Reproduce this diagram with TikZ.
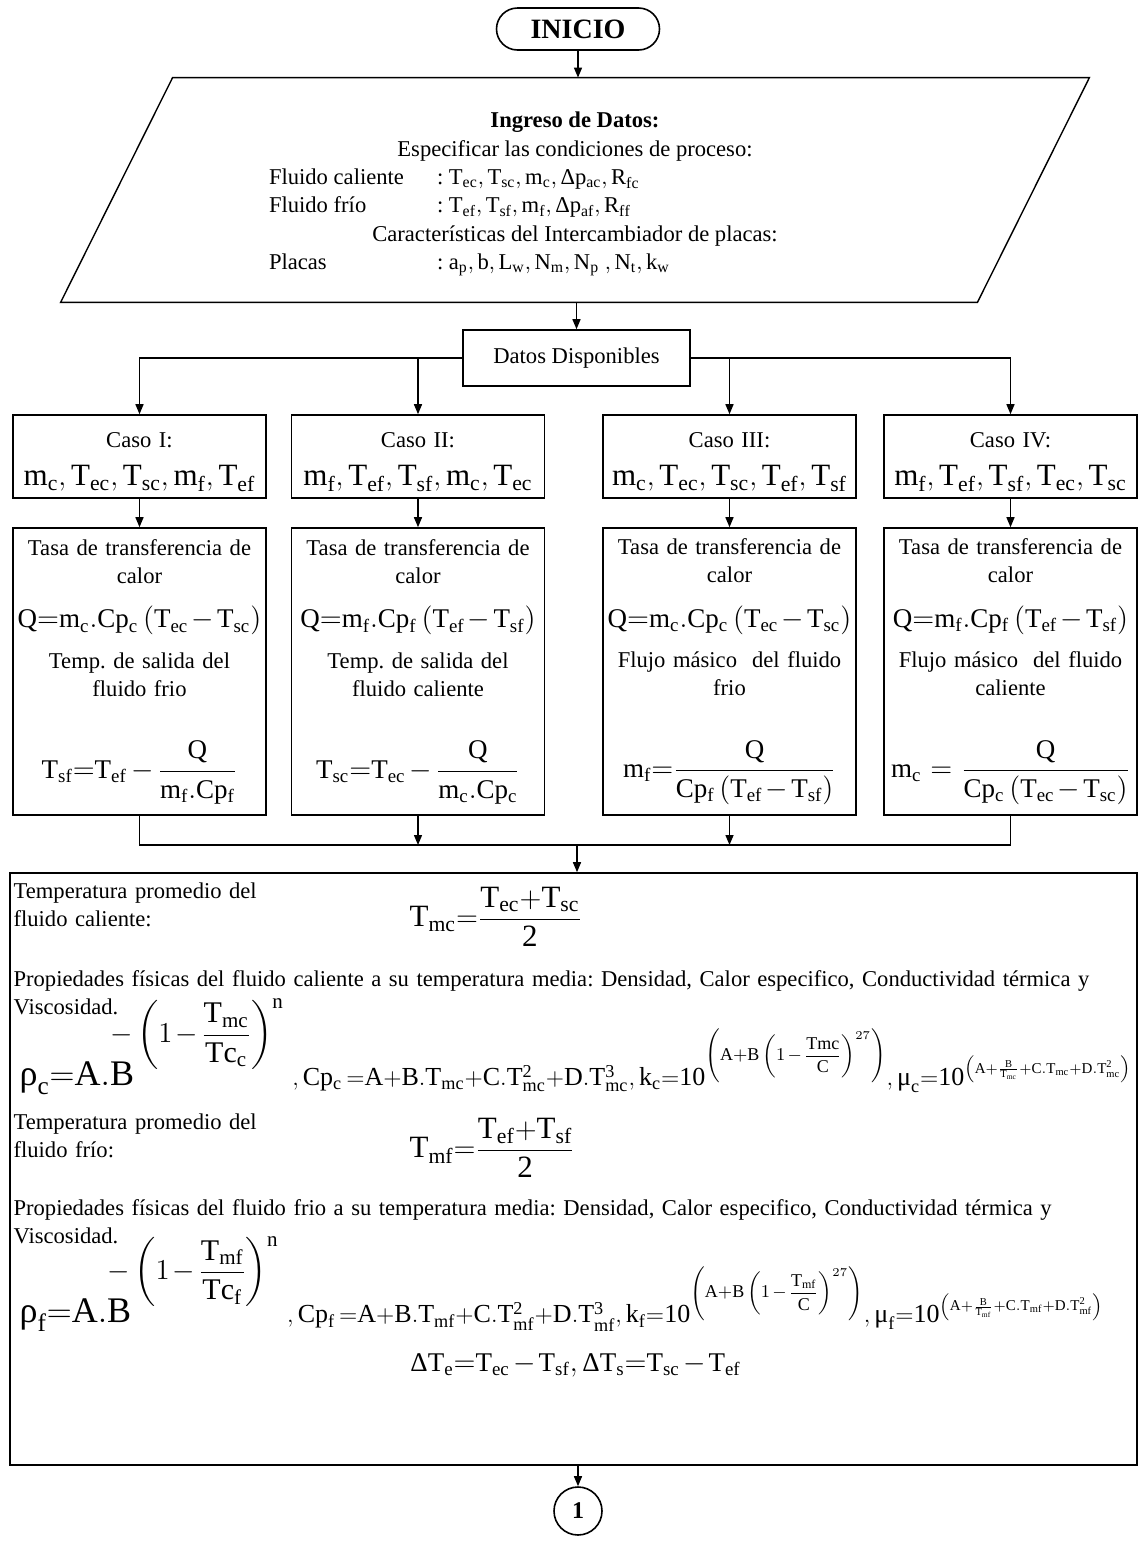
\documentclass[tikz,border=0pt]{standalone}
\usepackage{amsmath}
\usepackage{fontspec}
\setmainfont{Liberation Serif}
\usetikzlibrary{arrows.meta,shapes.misc,calc}

\newcommand{\grho}{\text{ρ}}
\newcommand{\gmu}{\text{μ}}
\newcommand{\gDelta}{\text{Δ}}
\newcommand{\tamf}{\fontsize{13.5}{17}\selectfont\medmuskip=2mu plus 1mu minus 1mu}
\newcommand{\tamc}{\fontsize{15.5}{17}\selectfont}
\newcommand{\tamr}{\fontsize{13}{16}\selectfont\medmuskip=2mu plus 1mu minus 1mu}
% exponentes de las correlaciones
\newcommand{\expro}[2]{\mbox{\hspace{-12pt}\raisebox{13pt}{\fontsize{15}{17}\selectfont\medmuskip=2mu$\displaystyle-\left(1-\frac{\mathrm{#1}}{\mathrm{#2}}\right)^{\mathrm n}$}}}
\newcommand{\expk}[1]{\mbox{\fontsize{9}{11}\selectfont\medmuskip=2mu$\left(\mathrm{A{+}B}\left(1-\dfrac{\mathrm{#1}}{\mathrm C}\right)^{27}\right)$}}
\newcommand{\expmu}[1]{\mbox{\fontsize{7.5}{9}\selectfont$\left(\mathrm{A{+}}\frac{\mathrm B}{\mathrm{#1}}\mathrm{{+}C.#1{+}D.#1^2}\right)$}}
\frenchspacing

\tikzset{
  caja/.style={draw, line width=0.8pt, inner sep=1pt, align=center},
  flecha/.style={-{Triangle[length=5pt,width=4pt]}, line width=0.7pt},
  linea/.style={line width=0.7pt},
}

\begin{document}
\begin{tikzpicture}[x=0.5pt, y=-0.5pt, font=\fontsize{11.3}{14.2}\selectfont]
\useasboundingbox (0,0) rectangle (1141,1548);

% Inicio
\node[caja, rounded rectangle, minimum width=83.5pt, minimum height=21pt,
  font=\fontsize{14}{17}\selectfont\bfseries] (inicio) at (578,29) {INICIO};

% Ingreso de datos (paralelogramo)
\node[minimum width=514pt, minimum height=112pt, align=center] (entrada) at (575,190) {
  \rule{0pt}{12pt}\textbf{Ingreso de Datos:}\\
  Especificar las condiciones de proceso:\\
  \makebox[306pt][l]{\makebox[84pt][l]{Fluido caliente}: $\mathrm{T_{ec}, T_{sc}, m_c, \gDelta p_{ac}, R_{fc}}$}\\
  \makebox[306pt][l]{\makebox[84pt][l]{Fluido frío}: $\mathrm{T_{ef}, T_{sf}, m_f, \gDelta p_{af}, R_{ff}}$}\\
  Características del Intercambiador de placas:\\
  \makebox[306pt][l]{\makebox[84pt][l]{Placas}: $\mathrm{a_p, b, L_w, N_m, N_p\ ,N_t, k_w}$}};
\draw[linea] ($(entrada.north west)+(112,0)$) -- (entrada.north east)
  -- ($(entrada.south east)+(-112,0)$) -- (entrada.south west) -- cycle;

% Datos disponibles
\node[caja, minimum width=113.5pt, minimum height=28pt] (datos) at (576.5,358) {Datos Disponibles};

% Casos
\node[caja, text width=124.5pt, minimum height=41.5pt] (casoI) at (139.5,456.5)
  {\rule{0pt}{13pt}Caso I:\\[5pt] {\tamc$\mathrm{m_c,T_{ec},T_{sc},m_f,T_{ef}}$}};
\node[caja, text width=124.5pt, minimum height=41.5pt] (casoII) at (418,456.5)
  {\rule{0pt}{13pt}Caso II:\\[5pt] {\tamc$\mathrm{m_f,T_{ef},T_{sf},m_c,T_{ec}}$}};
\node[caja, text width=124.5pt, minimum height=41.5pt] (casoIII) at (729.5,456.5)
  {\rule{0pt}{13pt}Caso III:\\[5pt] {\tamc$\mathrm{m_c,T_{ec},T_{sc},T_{ef},T_{sf}}$}};
\node[caja, text width=124.5pt, minimum height=41.5pt] (casoIV) at (1010.5,456.5)
  {\rule{0pt}{13pt}Caso IV:\\[5pt] {\tamc$\mathrm{m_f,T_{ef},T_{sf},T_{ec},T_{sc}}$}};

% Calculo de Q y de la incognita
\node[caja, text width=124.5pt, minimum height=143.5pt] (tasaI) at (139.5,671.5) {
  Tasa de transferencia de\\ calor\\[8pt]
  {\tamf$\mathrm{Q{=}m_c.Cp_c}\left(\mathrm{T_{ec}-T_{sc}}\right)$}\\[6pt]
  Temp. de salida del\\ fluido frio\\[21pt]
  {\tamf$\mathrm{T_{sf}{=}T_{ef}}-\dfrac{\mathrm{Q}}{\mathrm{m_f.Cp_f}}$}};
\node[caja, text width=124.5pt, minimum height=143.5pt] (tasaII) at (418,671.5) {
  Tasa de transferencia de\\ calor\\[8pt]
  {\tamf$\mathrm{Q{=}m_f.Cp_f}\left(\mathrm{T_{ef}-T_{sf}}\right)$}\\[6pt]
  Temp. de salida del\\ fluido caliente\\[21pt]
  {\tamf$\mathrm{T_{sc}{=}T_{ec}}-\dfrac{\mathrm{Q}}{\mathrm{m_c.Cp_c}}$}};
\node[caja, text width=124.5pt, minimum height=143.5pt] (tasaIII) at (729.5,671.5) {
  Tasa de transferencia de\\ calor\\[8pt]
  {\tamf$\mathrm{Q{=}m_c.Cp_c}\left(\mathrm{T_{ec}-T_{sc}}\right)$}\\[6pt]
  Flujo másico\ \ del fluido\\ frio\\[21pt]
  {\tamf$\mathrm{m_f{=}}\dfrac{\mathrm{Q}}{\mathrm{Cp_f}\left(\mathrm{T_{ef}-T_{sf}}\right)}$}};
\node[caja, text width=124.5pt, minimum height=143.5pt] (tasaIV) at (1010.5,671.5) {
  Tasa de transferencia de\\ calor\\[8pt]
  {\tamf$\mathrm{Q{=}m_f.Cp_f}\left(\mathrm{T_{ef}-T_{sf}}\right)$}\\[6pt]
  Flujo másico\ \ del fluido\\ caliente\\[21pt]
  {\tamf$\mathrm{m_c}=\dfrac{\mathrm{Q}}{\mathrm{Cp_c}\left(\mathrm{T_{ec}-T_{sc}}\right)}$}};

% Propiedades a temperatura media
\node[draw, line width=0.8pt, minimum width=563.5pt, minimum height=296pt, inner sep=0pt] (calc) at (573.5,1169) {};
\node[anchor=north west, text width=562pt, align=left, inner sep=0pt] (calctxt) at ($(calc.north west)+(4,10)$) {
  \parbox[b]{150pt}{\raggedright Temperatura promedio del\\ fluido caliente:}\hspace{48pt}%
  {\tamc$\mathrm{T_{mc}{=}}\dfrac{\mathrm{T_{ec}{+}T_{sc}}}{\mathrm{2}}$}\\[11pt]
  Propiedades físicas del fluido caliente a su temperatura media: Densidad, Calor especifico, Conductividad térmica y\\
  Viscosidad.\\[-9pt]
  \hspace*{3pt}{\tamr$\mbox{\fontsize{18}{20}\selectfont$\grho_{\mathrm c}\mathrm{{=}A.B}$}^{\expro{T_{mc}}{Tc_c}}\mathrm{\ ,Cp_c\,{=}A{+}B.T_{mc}{+}C.T^2_{mc}{+}D.T^3_{mc},k_c{=}10}^{\expk{Tmc}}\mathrm{,}\,\gmu_{\mathrm c}\mathrm{{=}10}^{\expmu{T_{mc}}}$}\\[8.5pt]
  \parbox[b]{150pt}{\raggedright Temperatura promedio del\\ fluido frío:}\hspace{48pt}%
  {\tamc$\mathrm{T_{mf}{=}}\dfrac{\mathrm{T_{ef}{+}T_{sf}}}{\mathrm{2}}$}\\[10pt]
  Propiedades físicas del fluido frio a su temperatura media: Densidad, Calor especifico, Conductividad térmica y\\
  Viscosidad.\\[-5pt]
  \hspace*{3pt}{\tamr$\mbox{\fontsize{18}{20}\selectfont$\grho_{\mathrm f}\mathrm{{=}A.B}$}^{\expro{T_{mf}}{Tc_f}}\mathrm{\ ,Cp_f\,{=}A{+}B.T_{mf}{+}C.T^2_{mf}{+}D.T^3_{mf},k_f{=}10}^{\expk{T_{mf}}}\mathrm{,}\,\gmu_{\mathrm f}\mathrm{{=}10}^{\expmu{T_{mf}}}$}\\[10pt]
  \makebox[\linewidth]{\tamf$\gDelta\mathrm{T_e{=}T_{ec}-T_{sf},}\,\gDelta\mathrm{T_s{=}T_{sc}-T_{ef}}$}};

% Conector 1
\node[caja, circle, minimum size=24pt, font=\fontsize{12}{14}\selectfont\bfseries] (uno) at (578,1511) {1};

% Flechas
\draw[flecha] (inicio.south) -- (inicio.south |- entrada.north);
\draw[flecha] (datos.north |- entrada.south) -- (datos.north);
\draw[flecha] (datos.west) -| (casoI.north);
\draw[flecha] (datos.east) -| (casoIV.north);
\draw[flecha] (casoII.north |- datos.west) -- (casoII.north);
\draw[flecha] (casoIII.north |- datos.east) -- (casoIII.north);
\draw[flecha] (casoI) -- (tasaI);
\draw[flecha] (casoII) -- (tasaII);
\draw[flecha] (casoIII) -- (tasaIII);
\draw[flecha] (casoIV) -- (tasaIV);

% Union de los cuatro casos
\coordinate (une) at (577,845);
\draw[linea] (tasaI.south) |- (une) -| (tasaIV.south);
\draw[flecha] (tasaII.south) -- (tasaII.south |- une);
\draw[flecha] (tasaIII.south) -- (tasaIII.south |- une);
\draw[flecha] (une) -- (une |- calc.north);
\draw[flecha] (uno.north |- calc.south) -- (uno.north);
\end{tikzpicture}
\end{document}
